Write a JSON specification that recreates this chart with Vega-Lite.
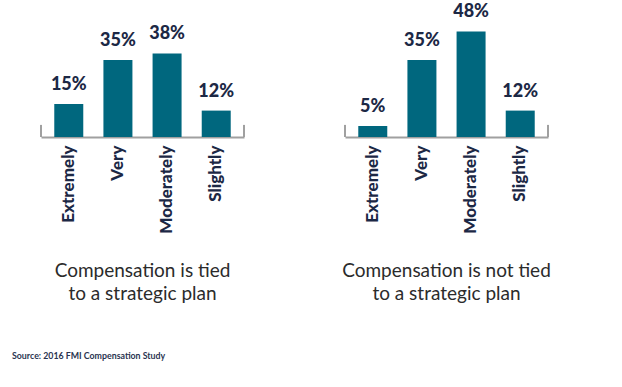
{
  "$schema": "https://vega.github.io/schema/vega-lite/v6.json",
  "background": "white",
  "padding": {"left": 12, "top": 3, "right": 10, "bottom": 10},
  "spacing": 101,
  "bounds": "flush",
  "data": {"values": [
    {"panel": "tied", "cat": "Extremely", "pct": 15},
    {"panel": "tied", "cat": "Very", "pct": 35},
    {"panel": "tied", "cat": "Moderately", "pct": 38},
    {"panel": "tied", "cat": "Slightly", "pct": 12},
    {"panel": "not", "cat": "Extremely", "pct": 5},
    {"panel": "not", "cat": "Very", "pct": 35},
    {"panel": "not", "cat": "Moderately", "pct": 48},
    {"panel": "not", "cat": "Slightly", "pct": 12}
  ]},
  "title": {
    "text": "Source: 2016 FMI Compensation Study",
    "orient": "bottom", "anchor": "start", "frame": "group",
    "dx": -29, "offset": 48,
    "font": "Lato", "fontSize": 8.8, "fontWeight": "bold", "color": "#2a3450"
  },
  "config": {
    "view": {"stroke": null},
    "axis": {"grid": false}
  },
  "hconcat": [
    {
      "width": 203, "height": 110,
      "title": {"text": ["Compensation is tied", "to a strategic plan"], "orient": "bottom", "offset": 29,
        "font": "Lato", "fontSize": 19, "fontWeight": "normal", "color": "#2b2b2b", "lineHeight": 23},
      "transform": [{"filter": "datum.panel == 'tied'"}, {"calculate": "datum.pct + '%'", "as": "label"}],
      "layer": [
        {
          "mark": {"type": "bar", "color": "#00677e"},
          "encoding": {
            "x": {"field": "cat", "type": "nominal", "sort": ["Extremely", "Very", "Moderately", "Slightly"],
              "scale": {"paddingInner": 0.41, "paddingOuter": 0.27},
              "axis": {"title": null, "ticks": false, "domainColor": "#a0a0a0", "domainWidth": 2,
                "labelAngle": -90, "labelAlign": "right", "labelBaseline": "middle", "labelPadding": 8,
                "labelFont": "Lato", "labelFontWeight": 900, "labelFontSize": 17, "labelColor": "#1c2845"}},
            "y": {"field": "pct", "type": "quantitative", "scale": {"domain": [0, 50]}, "axis": null}
          }
        },
        {
          "mark": {"type": "text", "baseline": "alphabetic", "dy": -14, "font": "Lato", "fontWeight": 900, "fontSize": 18, "color": "#1c2845"},
          "encoding": {
            "x": {"field": "cat", "type": "nominal", "sort": ["Extremely", "Very", "Moderately", "Slightly"]},
            "y": {"field": "pct", "type": "quantitative"},
            "text": {"field": "label"}
          }
        },
        {
          "data": {"values": [{"end": "left"}]},
          "mark": {"type": "rule", "color": "#a0a0a0", "strokeWidth": 2},
          "encoding": {
            "x": {"datum": "Extremely", "type": "nominal", "bandPosition": -0.458},
            "y": {"datum": 0, "type": "quantitative"},
            "y2": {"datum": 5.5}
          }
        },
        {
          "data": {"values": [{"end": "right"}]},
          "mark": {"type": "rule", "color": "#a0a0a0", "strokeWidth": 2},
          "encoding": {
            "x": {"datum": "Slightly", "type": "nominal", "bandPosition": 1.458},
            "y": {"datum": 0, "type": "quantitative"},
            "y2": {"datum": 5.5}
          }
        }
      ]
    },
    {
      "width": 203, "height": 110,
      "title": {"text": ["Compensation is not tied", "to a strategic plan"], "orient": "bottom", "offset": 29,
        "font": "Lato", "fontSize": 19, "fontWeight": "normal", "color": "#2b2b2b", "lineHeight": 23},
      "transform": [{"filter": "datum.panel == 'not'"}, {"calculate": "datum.pct + '%'", "as": "label"}],
      "layer": [
        {
          "mark": {"type": "bar", "color": "#00677e"},
          "encoding": {
            "x": {"field": "cat", "type": "nominal", "sort": ["Extremely", "Very", "Moderately", "Slightly"],
              "scale": {"paddingInner": 0.41, "paddingOuter": 0.27},
              "axis": {"title": null, "ticks": false, "domainColor": "#a0a0a0", "domainWidth": 2,
                "labelAngle": -90, "labelAlign": "right", "labelBaseline": "middle", "labelPadding": 8,
                "labelFont": "Lato", "labelFontWeight": 900, "labelFontSize": 17, "labelColor": "#1c2845"}},
            "y": {"field": "pct", "type": "quantitative", "scale": {"domain": [0, 50]}, "axis": null}
          }
        },
        {
          "mark": {"type": "text", "baseline": "alphabetic", "dy": -14, "font": "Lato", "fontWeight": 900, "fontSize": 18, "color": "#1c2845"},
          "encoding": {
            "x": {"field": "cat", "type": "nominal", "sort": ["Extremely", "Very", "Moderately", "Slightly"]},
            "y": {"field": "pct", "type": "quantitative"},
            "text": {"field": "label"}
          }
        },
        {
          "data": {"values": [{"end": "left"}]},
          "mark": {"type": "rule", "color": "#a0a0a0", "strokeWidth": 2},
          "encoding": {
            "x": {"datum": "Extremely", "type": "nominal", "bandPosition": -0.458},
            "y": {"datum": 0, "type": "quantitative"},
            "y2": {"datum": 5.5}
          }
        },
        {
          "data": {"values": [{"end": "right"}]},
          "mark": {"type": "rule", "color": "#a0a0a0", "strokeWidth": 2},
          "encoding": {
            "x": {"datum": "Slightly", "type": "nominal", "bandPosition": 1.458},
            "y": {"datum": 0, "type": "quantitative"},
            "y2": {"datum": 5.5}
          }
        }
      ]
    }
  ]
}
